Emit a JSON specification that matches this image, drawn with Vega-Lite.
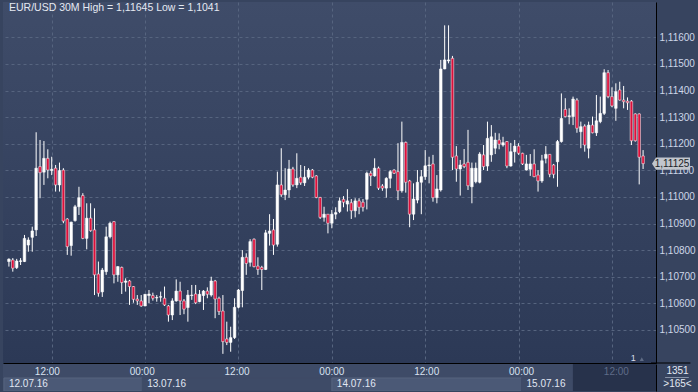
{
"$schema": "https://vega.github.io/schema/vega-lite/v6.json",
"background": "#37445f",
"padding": {"left": 3, "top": 2, "right": 2, "bottom": 2},
"spacing": 0,
"config": {"view": {"stroke": null}, "font": "Liberation Sans", "axis": {"labelFont": "Liberation Sans", "labelFontSize": 10, "labelOverlap": false}},
"datasets": {
"candles": [
{"t":"2016-07-12T06:30","o":1.10757,"h":1.10769,"l":1.10738,"c":1.10766},
{"t":"2016-07-12T07:00","o":1.10763,"h":1.10770,"l":1.10719,"c":1.10732},
{"t":"2016-07-12T07:30","o":1.10734,"h":1.10767,"l":1.10729,"c":1.10759},
{"t":"2016-07-12T08:00","o":1.10757,"h":1.10770,"l":1.10744,"c":1.10760},
{"t":"2016-07-12T08:30","o":1.10757,"h":1.10857,"l":1.10755,"c":1.10844},
{"t":"2016-07-12T09:00","o":1.10819,"h":1.10848,"l":1.10794,"c":1.10838},
{"t":"2016-07-12T09:30","o":1.10848,"h":1.10888,"l":1.10794,"c":1.10872},
{"t":"2016-07-12T10:00","o":1.10876,"h":1.11243,"l":1.10853,"c":1.11108},
{"t":"2016-07-12T10:30","o":1.11114,"h":1.11214,"l":1.10995,"c":1.11091},
{"t":"2016-07-12T11:00","o":1.11093,"h":1.11210,"l":1.11045,"c":1.11145},
{"t":"2016-07-12T11:30","o":1.11145,"h":1.11179,"l":1.11070,"c":1.11101},
{"t":"2016-07-12T12:00","o":1.11099,"h":1.11151,"l":1.11082,"c":1.11104},
{"t":"2016-07-12T12:30","o":1.11108,"h":1.11120,"l":1.11020,"c":1.11045},
{"t":"2016-07-12T13:00","o":1.11045,"h":1.11129,"l":1.11020,"c":1.11099},
{"t":"2016-07-12T13:30","o":1.11101,"h":1.11108,"l":1.10901,"c":1.10909},
{"t":"2016-07-12T14:00","o":1.10917,"h":1.10920,"l":1.10782,"c":1.10813},
{"t":"2016-07-12T14:30","o":1.10817,"h":1.10907,"l":1.10779,"c":1.10905},
{"t":"2016-07-12T15:00","o":1.10911,"h":1.10970,"l":1.10907,"c":1.10963},
{"t":"2016-07-12T15:30","o":1.10963,"h":1.11038,"l":1.10932,"c":1.10997},
{"t":"2016-07-12T16:00","o":1.11005,"h":1.11014,"l":1.10841,"c":1.10844},
{"t":"2016-07-12T16:30","o":1.10844,"h":1.10976,"l":1.10803,"c":1.10920},
{"t":"2016-07-12T17:00","o":1.10920,"h":1.10976,"l":1.10869,"c":1.10873},
{"t":"2016-07-12T17:30","o":1.10876,"h":1.10957,"l":1.10631,"c":1.10707},
{"t":"2016-07-12T18:00","o":1.10710,"h":1.10757,"l":1.10625,"c":1.10638},
{"t":"2016-07-12T18:30","o":1.10643,"h":1.10733,"l":1.10624,"c":1.10725},
{"t":"2016-07-12T19:00","o":1.10719,"h":1.10888,"l":1.10707,"c":1.10850},
{"t":"2016-07-12T19:30","o":1.10850,"h":1.10907,"l":1.10844,"c":1.10901},
{"t":"2016-07-12T20:00","o":1.10907,"h":1.10909,"l":1.10675,"c":1.10707},
{"t":"2016-07-12T20:30","o":1.10707,"h":1.10740,"l":1.10681,"c":1.10738},
{"t":"2016-07-12T21:00","o":1.10735,"h":1.10738,"l":1.10635,"c":1.10678},
{"t":"2016-07-12T21:30","o":1.10679,"h":1.10694,"l":1.10644,"c":1.10684},
{"t":"2016-07-12T22:00","o":1.10684,"h":1.10688,"l":1.10594,"c":1.10663},
{"t":"2016-07-12T22:30","o":1.10663,"h":1.10665,"l":1.10602,"c":1.10615},
{"t":"2016-07-12T23:00","o":1.10616,"h":1.10631,"l":1.10594,"c":1.10609},
{"t":"2016-07-12T23:30","o":1.10609,"h":1.10631,"l":1.10587,"c":1.10590},
{"t":"2016-07-13T00:00","o":1.10590,"h":1.10635,"l":1.10589,"c":1.10634},
{"t":"2016-07-13T00:30","o":1.10629,"h":1.10650,"l":1.10600,"c":1.10635},
{"t":"2016-07-13T01:00","o":1.10629,"h":1.10640,"l":1.10610,"c":1.10619},
{"t":"2016-07-13T01:30","o":1.10620,"h":1.10631,"l":1.10606,"c":1.10622},
{"t":"2016-07-13T02:00","o":1.10623,"h":1.10644,"l":1.10606,"c":1.10625},
{"t":"2016-07-13T02:30","o":1.10619,"h":1.10663,"l":1.10590,"c":1.10594},
{"t":"2016-07-13T03:00","o":1.10590,"h":1.10594,"l":1.10531,"c":1.10556},
{"t":"2016-07-13T03:30","o":1.10556,"h":1.10619,"l":1.10537,"c":1.10609},
{"t":"2016-07-13T04:00","o":1.10609,"h":1.10690,"l":1.10606,"c":1.10646},
{"t":"2016-07-13T04:30","o":1.10646,"h":1.10681,"l":1.10556,"c":1.10609},
{"t":"2016-07-13T05:00","o":1.10609,"h":1.10616,"l":1.10559,"c":1.10578},
{"t":"2016-07-13T05:30","o":1.10584,"h":1.10650,"l":1.10531,"c":1.10631},
{"t":"2016-07-13T06:00","o":1.10629,"h":1.10669,"l":1.10613,"c":1.10631},
{"t":"2016-07-13T06:30","o":1.10635,"h":1.10669,"l":1.10597,"c":1.10602},
{"t":"2016-07-13T07:00","o":1.10606,"h":1.10650,"l":1.10604,"c":1.10634},
{"t":"2016-07-13T07:30","o":1.10629,"h":1.10650,"l":1.10575,"c":1.10646},
{"t":"2016-07-13T08:00","o":1.10646,"h":1.10660,"l":1.10619,"c":1.10634},
{"t":"2016-07-13T08:30","o":1.10631,"h":1.10700,"l":1.10625,"c":1.10684},
{"t":"2016-07-13T09:00","o":1.10684,"h":1.10688,"l":1.10544,"c":1.10616},
{"t":"2016-07-13T09:30","o":1.10619,"h":1.10625,"l":1.10556,"c":1.10569},
{"t":"2016-07-13T10:00","o":1.10571,"h":1.10631,"l":1.10410,"c":1.10456},
{"t":"2016-07-13T10:30","o":1.10466,"h":1.10531,"l":1.10443,"c":1.10453},
{"t":"2016-07-13T11:00","o":1.10453,"h":1.10512,"l":1.10418,"c":1.10471},
{"t":"2016-07-13T11:30","o":1.10471,"h":1.10619,"l":1.10466,"c":1.10585},
{"t":"2016-07-13T12:00","o":1.10585,"h":1.10654,"l":1.10581,"c":1.10650},
{"t":"2016-07-13T12:30","o":1.10648,"h":1.10800,"l":1.10585,"c":1.10773},
{"t":"2016-07-13T13:00","o":1.10773,"h":1.10788,"l":1.10707,"c":1.10750},
{"t":"2016-07-13T13:30","o":1.10754,"h":1.10841,"l":1.10738,"c":1.10832},
{"t":"2016-07-13T14:00","o":1.10841,"h":1.10844,"l":1.10735,"c":1.10738},
{"t":"2016-07-13T14:30","o":1.10740,"h":1.10773,"l":1.10707,"c":1.10727},
{"t":"2016-07-13T15:00","o":1.10735,"h":1.10741,"l":1.10650,"c":1.10727},
{"t":"2016-07-13T15:30","o":1.10727,"h":1.10876,"l":1.10725,"c":1.10865},
{"t":"2016-07-13T16:00","o":1.10863,"h":1.10935,"l":1.10817,"c":1.10872},
{"t":"2016-07-13T16:30","o":1.10876,"h":1.10917,"l":1.10782,"c":1.10819},
{"t":"2016-07-13T17:00","o":1.10822,"h":1.11095,"l":1.10813,"c":1.11045},
{"t":"2016-07-13T17:30","o":1.11045,"h":1.11183,"l":1.11000,"c":1.11008},
{"t":"2016-07-13T18:00","o":1.11008,"h":1.11108,"l":1.10988,"c":1.11026},
{"t":"2016-07-13T18:30","o":1.11026,"h":1.11139,"l":1.10997,"c":1.11105},
{"t":"2016-07-13T19:00","o":1.11105,"h":1.11113,"l":1.11038,"c":1.11045},
{"t":"2016-07-13T19:30","o":1.11045,"h":1.11164,"l":1.11033,"c":1.11070},
{"t":"2016-07-13T20:00","o":1.11074,"h":1.11120,"l":1.11045,"c":1.11053},
{"t":"2016-07-13T20:30","o":1.11053,"h":1.11116,"l":1.11041,"c":1.11074},
{"t":"2016-07-13T21:00","o":1.11074,"h":1.11108,"l":1.11066,"c":1.11101},
{"t":"2016-07-13T21:30","o":1.11101,"h":1.11105,"l":1.11070,"c":1.11074},
{"t":"2016-07-13T22:00","o":1.11079,"h":1.11082,"l":1.10995,"c":1.10998},
{"t":"2016-07-13T22:30","o":1.10998,"h":1.11000,"l":1.10917,"c":1.10923},
{"t":"2016-07-13T23:00","o":1.10923,"h":1.10963,"l":1.10907,"c":1.10935},
{"t":"2016-07-13T23:30","o":1.10935,"h":1.10935,"l":1.10863,"c":1.10901},
{"t":"2016-07-14T00:00","o":1.10901,"h":1.10951,"l":1.10882,"c":1.10935},
{"t":"2016-07-14T00:30","o":1.10935,"h":1.10961,"l":1.10916,"c":1.10941},
{"t":"2016-07-14T01:00","o":1.10945,"h":1.10998,"l":1.10939,"c":1.10985},
{"t":"2016-07-14T01:30","o":1.10991,"h":1.11003,"l":1.10961,"c":1.10980},
{"t":"2016-07-14T02:00","o":1.10973,"h":1.11029,"l":1.10945,"c":1.10985},
{"t":"2016-07-14T02:30","o":1.10978,"h":1.10992,"l":1.10917,"c":1.10948},
{"t":"2016-07-14T03:00","o":1.10948,"h":1.10995,"l":1.10923,"c":1.10985},
{"t":"2016-07-14T03:30","o":1.10985,"h":1.10995,"l":1.10935,"c":1.10961},
{"t":"2016-07-14T04:00","o":1.10980,"h":1.10992,"l":1.10945,"c":1.10961},
{"t":"2016-07-14T04:30","o":1.10991,"h":1.11095,"l":1.10953,"c":1.11089},
{"t":"2016-07-14T05:00","o":1.11089,"h":1.11098,"l":1.11041,"c":1.11079},
{"t":"2016-07-14T05:30","o":1.11079,"h":1.11145,"l":1.11076,"c":1.11108},
{"t":"2016-07-14T06:00","o":1.11108,"h":1.11114,"l":1.11026,"c":1.11033},
{"t":"2016-07-14T06:30","o":1.11041,"h":1.11048,"l":1.11023,"c":1.11033},
{"t":"2016-07-14T07:00","o":1.11033,"h":1.11074,"l":1.10997,"c":1.11070},
{"t":"2016-07-14T07:30","o":1.11070,"h":1.11101,"l":1.11033,"c":1.11095},
{"t":"2016-07-14T08:00","o":1.11101,"h":1.11104,"l":1.11086,"c":1.11089},
{"t":"2016-07-14T08:30","o":1.11095,"h":1.11202,"l":1.10988,"c":1.11023},
{"t":"2016-07-14T09:00","o":1.11023,"h":1.11283,"l":1.11016,"c":1.11205},
{"t":"2016-07-14T09:30","o":1.11205,"h":1.11208,"l":1.11016,"c":1.11055},
{"t":"2016-07-14T10:00","o":1.11060,"h":1.11064,"l":1.10886,"c":1.10935},
{"t":"2016-07-14T10:30","o":1.10935,"h":1.11051,"l":1.10913,"c":1.10992},
{"t":"2016-07-14T11:00","o":1.10988,"h":1.11101,"l":1.10976,"c":1.11055},
{"t":"2016-07-14T11:30","o":1.11055,"h":1.11101,"l":1.10935,"c":1.11076},
{"t":"2016-07-14T12:00","o":1.11076,"h":1.11176,"l":1.11064,"c":1.11117},
{"t":"2016-07-14T12:30","o":1.11117,"h":1.11151,"l":1.11051,"c":1.11120},
{"t":"2016-07-14T13:00","o":1.11124,"h":1.11158,"l":1.10982,"c":1.10997},
{"t":"2016-07-14T13:30","o":1.10997,"h":1.11082,"l":1.10976,"c":1.11030},
{"t":"2016-07-14T14:00","o":1.11026,"h":1.11515,"l":1.11020,"c":1.11481},
{"t":"2016-07-14T14:30","o":1.11481,"h":1.11645,"l":1.11480,"c":1.11515},
{"t":"2016-07-14T15:00","o":1.11511,"h":1.11645,"l":1.11502,"c":1.11515},
{"t":"2016-07-14T15:30","o":1.11521,"h":1.11530,"l":1.11101,"c":1.11149},
{"t":"2016-07-14T16:00","o":1.11154,"h":1.11191,"l":1.11057,"c":1.11105},
{"t":"2016-07-14T16:30","o":1.11105,"h":1.11139,"l":1.11005,"c":1.11120},
{"t":"2016-07-14T17:00","o":1.11124,"h":1.11180,"l":1.11108,"c":1.11114},
{"t":"2016-07-14T17:30","o":1.11130,"h":1.11252,"l":1.11026,"c":1.11042},
{"t":"2016-07-14T18:00","o":1.11038,"h":1.11129,"l":1.10976,"c":1.11108},
{"t":"2016-07-14T18:30","o":1.11057,"h":1.11129,"l":1.11051,"c":1.11108},
{"t":"2016-07-14T19:00","o":1.11055,"h":1.11168,"l":1.11051,"c":1.11161},
{"t":"2016-07-14T19:30","o":1.11158,"h":1.11195,"l":1.11101,"c":1.11114},
{"t":"2016-07-14T20:00","o":1.11116,"h":1.11283,"l":1.11098,"c":1.11220},
{"t":"2016-07-14T20:30","o":1.11158,"h":1.11270,"l":1.11132,"c":1.11226},
{"t":"2016-07-14T21:00","o":1.11183,"h":1.11241,"l":1.11161,"c":1.11214},
{"t":"2016-07-14T21:30","o":1.11214,"h":1.11239,"l":1.11179,"c":1.11198},
{"t":"2016-07-14T22:00","o":1.11195,"h":1.11226,"l":1.11189,"c":1.11204},
{"t":"2016-07-14T22:30","o":1.11208,"h":1.11210,"l":1.11108,"c":1.11116},
{"t":"2016-07-14T23:00","o":1.11116,"h":1.11203,"l":1.11114,"c":1.11170},
{"t":"2016-07-14T23:30","o":1.11170,"h":1.11214,"l":1.11129,"c":1.11191},
{"t":"2016-07-15T00:00","o":1.11191,"h":1.11202,"l":1.11158,"c":1.11164},
{"t":"2016-07-15T00:30","o":1.11164,"h":1.11166,"l":1.11120,"c":1.11124},
{"t":"2016-07-15T01:00","o":1.11101,"h":1.11158,"l":1.11099,"c":1.11124},
{"t":"2016-07-15T01:30","o":1.11104,"h":1.11161,"l":1.11079,"c":1.11124},
{"t":"2016-07-15T02:00","o":1.11124,"h":1.11179,"l":1.11074,"c":1.11076},
{"t":"2016-07-15T02:30","o":1.11082,"h":1.11101,"l":1.11020,"c":1.11060},
{"t":"2016-07-15T03:00","o":1.11060,"h":1.11158,"l":1.11053,"c":1.11136},
{"t":"2016-07-15T03:30","o":1.11145,"h":1.11191,"l":1.11126,"c":1.11160},
{"t":"2016-07-15T04:00","o":1.11160,"h":1.11161,"l":1.11074,"c":1.11085},
{"t":"2016-07-15T04:30","o":1.11120,"h":1.11124,"l":1.11070,"c":1.11085},
{"t":"2016-07-15T05:00","o":1.11132,"h":1.11214,"l":1.11038,"c":1.11208},
{"t":"2016-07-15T05:30","o":1.11208,"h":1.11389,"l":1.11204,"c":1.11295},
{"t":"2016-07-15T06:00","o":1.11329,"h":1.11371,"l":1.11299,"c":1.11302},
{"t":"2016-07-15T06:30","o":1.11302,"h":1.11333,"l":1.11273,"c":1.11305},
{"t":"2016-07-15T07:00","o":1.11302,"h":1.11377,"l":1.11270,"c":1.11368},
{"t":"2016-07-15T07:30","o":1.11364,"h":1.11371,"l":1.11241,"c":1.11258},
{"t":"2016-07-15T08:00","o":1.11245,"h":1.11283,"l":1.11183,"c":1.11264},
{"t":"2016-07-15T08:30","o":1.11266,"h":1.11273,"l":1.11170,"c":1.11195},
{"t":"2016-07-15T09:00","o":1.11183,"h":1.11283,"l":1.11145,"c":1.11270},
{"t":"2016-07-15T09:30","o":1.11270,"h":1.11302,"l":1.11239,"c":1.11241},
{"t":"2016-07-15T10:00","o":1.11241,"h":1.11383,"l":1.11229,"c":1.11286},
{"t":"2016-07-15T10:30","o":1.11283,"h":1.11377,"l":1.11277,"c":1.11314},
{"t":"2016-07-15T11:00","o":1.11314,"h":1.11480,"l":1.11308,"c":1.11467},
{"t":"2016-07-15T11:30","o":1.11467,"h":1.11477,"l":1.11371,"c":1.11377},
{"t":"2016-07-15T12:00","o":1.11377,"h":1.11412,"l":1.11337,"c":1.11342},
{"t":"2016-07-15T12:30","o":1.11333,"h":1.11427,"l":1.11286,"c":1.11396},
{"t":"2016-07-15T13:00","o":1.11402,"h":1.11433,"l":1.11362,"c":1.11364},
{"t":"2016-07-15T13:30","o":1.11364,"h":1.11417,"l":1.11333,"c":1.11358},
{"t":"2016-07-15T14:00","o":1.11360,"h":1.11374,"l":1.11327,"c":1.11354},
{"t":"2016-07-15T14:30","o":1.11360,"h":1.11364,"l":1.11195,"c":1.11211},
{"t":"2016-07-15T15:00","o":1.11312,"h":1.11314,"l":1.11208,"c":1.11211},
{"t":"2016-07-15T15:30","o":1.11312,"h":1.11314,"l":1.11047,"c":1.11149},
{"t":"2016-07-15T16:00","o":1.11154,"h":1.11176,"l":1.11105,"c":1.11125}
],
"ticks": [{"t":"2016-07-12T12:00"},{"t":"2016-07-13T00:00"},{"t":"2016-07-13T12:00"},{"t":"2016-07-14T00:00"},{"t":"2016-07-14T12:00"},{"t":"2016-07-15T00:00"},{"t":"2016-07-15T12:00"}],
"days": [{"start":"2016-07-12T06:30","end":"2016-07-13T00:00"},{"start":"2016-07-13T00:00","end":"2016-07-14T00:00"},{"start":"2016-07-14T00:00","end":"2016-07-15T00:00"},{"start":"2016-07-15T00:00","end":"2016-07-16T00:00"}]
},
"vconcat": [
{
"width": 653, "height": 361,
"view": {"stroke": null, "fill": {"gradient": "linear", "x1": 0, "y1": 0, "x2": 0, "y2": 1, "stops": [{"offset": 0, "color": "#3f4c69"}, {"offset": 1, "color": "#2c3956"}]}},
"layer": [
{
"data": {"name": "candles"},
"mark": {"type": "rule", "color": "#ffffff", "strokeWidth": 1},
"encoding": {
"x": {"field": "t", "type": "temporal",
 "scale": {"domain": [{"year": 2016, "month": 7, "date": 12, "hours": 6, "minutes": 23}, {"year": 2016, "month": 7, "date": 15, "hours": 17, "minutes": 1}]},
 "axis": {"orient": "bottom", "labels": false, "ticks": false, "domain": true, "domainColor": "#000000", "domainWidth": 1, "grid": true, "gridColor": "#56647f", "gridDash": [3, 3], "title": null, "tickCount": 30,
  "values": [{"year": 2016, "month": 7, "date": 12, "hours": 12}, {"year": 2016, "month": 7, "date": 13, "hours": 0}, {"year": 2016, "month": 7, "date": 13, "hours": 12}, {"year": 2016, "month": 7, "date": 14, "hours": 0}, {"year": 2016, "month": 7, "date": 14, "hours": 12}, {"year": 2016, "month": 7, "date": 15, "hours": 0}, {"year": 2016, "month": 7, "date": 15, "hours": 12}]}},
"y": {"field": "l", "type": "quantitative",
 "scale": {"domain": [1.103756, 1.117327], "nice": false, "zero": false},
 "axis": {"orient": "right", "tickCount": 30, "values": [1.105, 1.106, 1.107, 1.108, 1.109, 1.11, 1.111, 1.112, 1.113, 1.114, 1.115, 1.116], "labelExpr": "replace(format(datum.value, '.5f'), '.', ',')", "labelOverlap": false, "ticks": false, "domain": true, "domainColor": "#000000", "grid": true, "gridColor": "#56647f", "gridDash": [3, 3], "labelColor": "#cdd6e8", "labelPadding": 3, "title": null}},
"y2": {"field": "h"}
}
},
{
"data": {"name": "candles"},
"mark": {"type": "bar", "width": 2.6, "stroke": "#ffffff", "strokeWidth": 0.5},
"encoding": {
"x": {"field": "t", "type": "temporal"},
"y": {"field": "o", "type": "quantitative"},
"y2": {"field": "c"},
"fill": {"condition": {"test": "datum.c < datum.o", "value": "#dc0f3a"}, "value": "#ffffff"}
}
},
{
"data": {"values": [{"label": "EUR/USD 30M High = 1,11645 Low = 1,1041"}]},
"mark": {"type": "text", "align": "left", "baseline": "top", "dx": 1, "dy": 1, "fontSize": 10.5, "color": "#e4e9f2"},
"encoding": {
"x": {"datum": {"year": 2016, "month": 7, "date": 12, "hours": 6, "minutes": 23}},
"y": {"datum": 1.117327},
"text": {"field": "label"}
}
},
{
"data": {"values": [{}]},
"mark": {"type": "rule", "color": "#000000", "strokeWidth": 1},
"encoding": {
"x": {"datum": {"year": 2016, "month": 7, "date": 15, "hours": 17, "minutes": 1}},
"x2": {"datum": {"year": 2016, "month": 7, "date": 15, "hours": 22, "minutes": 5}},
"y": {"datum": 1.103756}
}
},
{
"data": {"values": [{"last": 1.11125}]},
"mark": {"type": "point", "shape": "M-1,0L-0.79,-0.32L1,-0.32L1,0.32L-0.79,0.32Z", "filled": true, "color": "#c2c6cd", "opacity": 1, "size": 1444, "xOffset": 20},
"encoding": {
"x": {"datum": {"year": 2016, "month": 7, "date": 15, "hours": 17, "minutes": 1}},
"y": {"field": "last", "type": "quantitative"}
}
},
{
"data": {"values": [{"last": 1.11125}]},
"mark": {"type": "text", "text": "1,11125", "xOffset": 21, "align": "center", "baseline": "middle", "fontSize": 10, "color": "#1b1f27"},
"encoding": {
"x": {"datum": {"year": 2016, "month": 7, "date": 15, "hours": 17, "minutes": 1}},
"y": {"field": "last", "type": "quantitative"}
}
},
{
"data": {"values": [{}]},
"mark": {"type": "text", "text": "1", "align": "center", "baseline": "middle", "fontSize": 9, "color": "#d8dfeb"},
"encoding": {
"x": {"datum": {"year": 2016, "month": 7, "date": 15, "hours": 14, "minutes": 45}},
"y": {"datum": 1.10393}
}
},
{
"data": {"values": [{}]},
"mark": {"type": "point", "shape": "triangle-up", "filled": true, "color": "#5f6b85", "opacity": 1, "size": 18},
"encoding": {
"x": {"datum": {"year": 2016, "month": 7, "date": 15, "hours": 15, "minutes": 50}},
"y": {"datum": 1.10390}
}
}
]
},
{
"width": 653, "height": 27,
"view": {"stroke": null, "fill": "#3e4b67"},
"layer": [
{
"data": {"name": "days"},
"mark": {"type": "rect", "clip": true, "strokeWidth": 1},
"encoding": {
"x": {"field": "start", "type": "temporal", "scale": {"domain": [{"year": 2016, "month": 7, "date": 12, "hours": 6, "minutes": 23}, {"year": 2016, "month": 7, "date": 15, "hours": 17, "minutes": 1}]}, "axis": null},
"x2": {"field": "end"},
"y": {"datum": 14, "type": "quantitative", "scale": {"domain": [0, 27], "reverse": true, "nice": false, "zero": false},
 "axis": {"orient": "right", "values": [6.5, 19.5], "labelExpr": "datum.value < 10 ? '1351' : '>165<'", "labelOverlap": false, "ticks": false, "grid": false, "domain": true, "domainColor": "#000000", "labelAlign": "center", "labelPadding": 21, "labelColor": "#e3e9f3", "title": null}},
"y2": {"datum": 27},
"fill": {"condition": {"test": "date(datum.start) % 2 == 0", "value": "#4b5976"}, "value": "#3e4b67"},
"stroke": {"condition": {"test": "date(datum.start) % 2 == 0", "value": "#56647f"}, "value": "#3e4b67"}
}
},
{
"data": {"values": [{}]},
"mark": {"type": "rect", "color": "#27324b"},
"encoding": {
"x": {"datum": {"year": 2016, "month": 7, "date": 15, "hours": 6, "minutes": 30}},
"x2": {"datum": {"year": 2016, "month": 7, "date": 15, "hours": 17, "minutes": 1}},
"y": {"datum": 0},
"y2": {"datum": 27}
}
},
{
"data": {"name": "ticks"},
"mark": {"type": "text", "align": "center", "baseline": "middle", "fontSize": 10},
"encoding": {
"x": {"field": "t", "type": "temporal"},
"y": {"datum": 8},
"text": {"field": "t", "type": "temporal", "format": "%H:%M"},
"color": {"condition": {"test": "time(datum.t) > time(datetime(2016, 6, 15, 6, 0))", "value": "#5f6c88"}, "value": "#d9e2f1"}
}
},
{
"data": {"name": "days"},
"mark": {"type": "text", "align": "left", "baseline": "middle", "dx": 5, "fontSize": 10, "clip": true, "color": "#e0e7f3"},
"encoding": {
"x": {"field": "start", "type": "temporal"},
"y": {"datum": 19.5},
"text": {"field": "start", "type": "temporal", "format": "%d.%m.%y"}
}
},
{
"data": {"values": [{}]},
"mark": {"type": "rule", "color": "#8793a8", "strokeWidth": 1},
"encoding": {
"x": {"datum": {"year": 2016, "month": 7, "date": 15, "hours": 18, "minutes": 10}},
"x2": {"datum": {"year": 2016, "month": 7, "date": 15, "hours": 21, "minutes": 10}},
"y": {"datum": 13.5}
}
}
]
}
]
}
